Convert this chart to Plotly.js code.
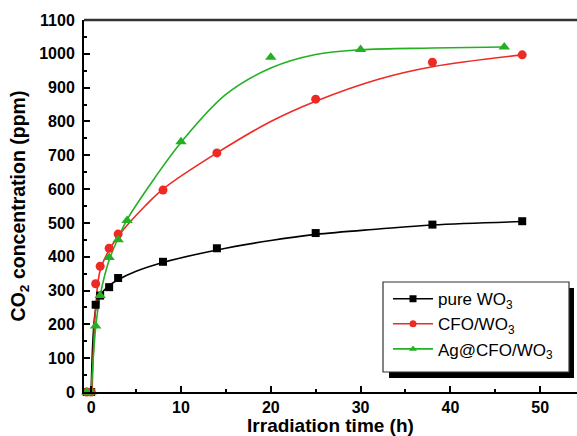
<!DOCTYPE html>
<html>
<head>
<meta charset="utf-8">
<script src="https://cdn.plot.ly/plotly-3.0.1.min.js"></script>
<style>html,body{margin:0;padding:0;background:#fff;}#chart{width:577px;height:436px;}</style>
</head>
<body>
<div id="chart"></div>
<script>
// Measured points
const timePure = [-0.5, 0, 0.5, 1, 2, 3, 8, 14, 25, 38, 48];
const co2Pure  = [0, 0, 258, 285, 310, 337, 385, 425, 470, 495, 505];
const timeCFO  = [-0.5, 0, 0.5, 1, 2, 3, 8, 14, 25, 38, 48];
const co2CFO   = [0, 0, 320, 372, 425, 467, 597, 707, 866, 975, 997];
const timeAg   = [-0.5, 0, 0.5, 1, 2, 3, 4, 10, 20, 30, 46];
const co2Ag    = [0, 0, 195, 285, 398, 450, 507, 740, 990, 1013, 1020];

// Fitted curves
const fitTimePure = [0, 0.5, 1, 2, 3, 5, 8, 14, 20, 25, 32, 38, 48];
const fitPure     = [0, 245, 285, 315, 332, 357, 383, 420, 448, 466, 482, 494, 504];
const fitTimeCFO  = [0.1, 0.5, 1, 2, 3, 4, 6, 8, 14, 20, 25, 32, 38, 48];
const fitCFO      = [0, 250, 360, 420, 460, 493, 550, 600, 707, 800, 860, 925, 962, 997];
const fitTimeAg   = [0, 0.5, 1, 2, 3, 4, 7, 10, 15, 20, 25, 30, 38, 46];
const fitAg       = [0, 190, 285, 390, 455, 510, 630, 738, 880, 958, 998, 1012, 1017, 1020];

const seriesNames = ['pure WO<sub>3</sub>', 'CFO/WO<sub>3</sub>', 'Ag@CFO/WO<sub>3</sub>'];
const colors = ['#000000', '#ee2a24', '#22b122'];
const symbols = ['square', 'circle', 'triangle-up'];
const sizes = [8, 9, 10];

const pts = [[timePure, co2Pure], [timeCFO, co2CFO], [timeAg, co2Ag]];
const fits = [[fitTimePure, fitPure], [fitTimeCFO, fitCFO], [fitTimeAg, fitAg]];

const traces = [];
for (let i = 0; i < 3; i++) {
  traces.push({
    x: fits[i][0], y: fits[i][1], mode: 'lines', type: 'scatter',
    line: {color: colors[i], width: 1.6, shape: 'spline', smoothing: 1},
    showlegend: false, hoverinfo: 'skip', cliponaxis: false
  });
}
for (let i = 0; i < 3; i++) {
  traces.push({
    x: pts[i][0], y: pts[i][1], mode: 'markers', type: 'scatter',
    name: seriesNames[i],
    marker: {color: colors[i], symbol: symbols[i], size: sizes[i]},
    cliponaxis: false, showlegend: false
  });
}
// legend entries (line + marker)
for (let i = 0; i < 3; i++) {
  traces.push({
    x: [null], y: [null], mode: 'lines+markers', type: 'scatter',
    name: seriesNames[i],
    line: {color: colors[i], width: 1.6},
    marker: {color: colors[i], symbol: symbols[i], size: 7}
  });
}

const fontFam = 'Liberation Sans, Arial, sans-serif';
const layout = {
  width: 577, height: 436,
  margin: {l: 84, r: 0, t: 20, b: 44},
  paper_bgcolor: '#fff', plot_bgcolor: '#fff',
  font: {family: fontFam, color: '#000'},
  xaxis: {
    range: [-0.8, 54.1], dtick: 10, tick0: 0,
    ticks: 'inside', ticklen: 6, tickwidth: 2, tickcolor: '#000',
    minor: {dtick: 5, ticks: 'inside', ticklen: 3, tickwidth: 2, tickcolor: '#000'},
    showline: true, linewidth: 2, linecolor: '#000', mirror: false,
    showgrid: false, zeroline: false,
    tickfont: {size: 16, family: fontFam, weight: 'bold'},
    title: {text: '<b>Irradiation time (h)</b>', font: {size: 19, family: fontFam}, standoff: 0}
  },
  yaxis: {
    range: [0, 1100], dtick: 100, tick0: 0,
    ticks: 'inside', ticklen: 6, tickwidth: 2, tickcolor: '#000',
    minor: {dtick: 50, ticks: 'inside', ticklen: 3, tickwidth: 2, tickcolor: '#000'},
    showline: true, linewidth: 2, linecolor: '#000', mirror: false,
    showgrid: false, zeroline: false, ticklabelstandoff: 4,
    tickfont: {size: 16, family: fontFam, weight: 'bold'},
    title: {text: '<b>CO<sub>2</sub> concentration (ppm)</b>', font: {size: 19.5, family: fontFam}, standoff: 8}
  },
  shapes: [
    {type: 'line', xref: 'paper', yref: 'paper', x0: 0, x1: 1, y0: 1, y1: 1,
     line: {color: '#333', width: 2.5}},
    {type: 'rect', xref: 'paper', yref: 'paper', x0: 0.6187, x1: 0.9939, y0: 0.0376, y1: 0.2796,
     fillcolor: '#000', line: {width: 0}, layer: 'above'},
    {type: 'rect', xref: 'paper', yref: 'paper', x0: 0.6065, x1: 0.9838, y0: 0.0538, y1: 0.2957,
     fillcolor: '#fff', line: {color: '#333', width: 1.2}, layer: 'above'}
  ],
  legend: {
    x: (388 - 84) / 493, y: 0.298, xanchor: 'left', yanchor: 'top',
    bgcolor: 'rgba(0,0,0,0)', borderwidth: 0,
    font: {size: 17, family: fontFam, color: '#000'},
    tracegroupgap: 0, itemwidth: 40
  },
  showlegend: true
};

Plotly.newPlot('chart', traces, layout, {displayModeBar: false, staticPlot: true});
</script>
</body>
</html>
